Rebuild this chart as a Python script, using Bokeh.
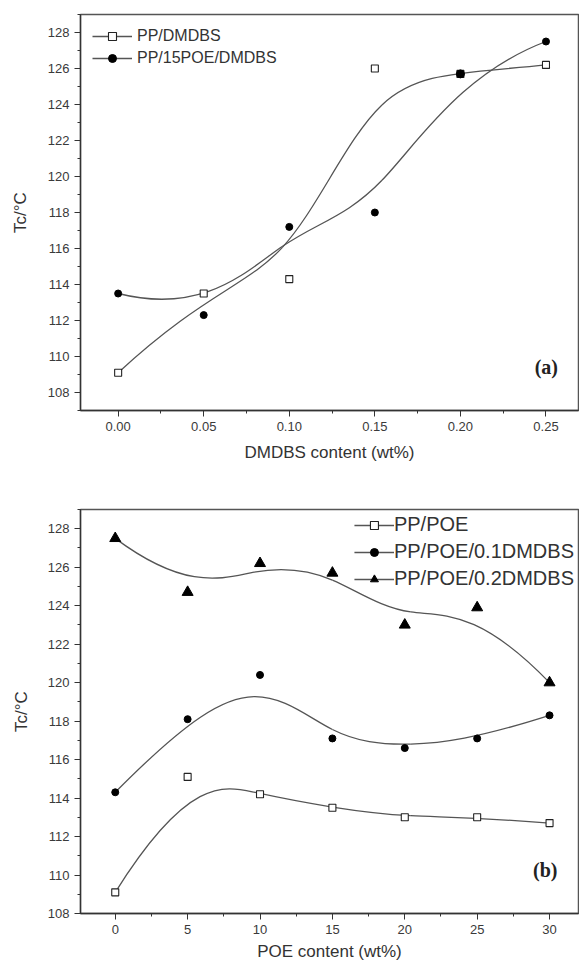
import numpy as np
from bokeh.plotting import figure
from bokeh.layouts import column
from bokeh.models import (FixedTicker, SingleIntervalTicker, NumeralTickFormatter,
                          Range1d, Legend, LegendItem, Label)
from bokeh.embed import file_html
from bokeh.resources import INLINE

# ---------------- data ----------------
dmdbs_x = [0.00, 0.05, 0.10, 0.15, 0.20, 0.25]
pp_dmdbs = [109.1, 113.5, 114.3, 126.0, 125.7, 126.2]
pp15poe_dmdbs = [113.5, 112.3, 117.2, 118.0, 125.7, 127.5]

poe_x = [0, 5, 10, 15, 20, 25, 30]
pp_poe = [109.1, 115.1, 114.2, 113.5, 113.0, 113.0, 112.7]
pp_poe_01 = [114.3, 118.1, 120.4, 117.1, 116.6, 117.1, 118.3]
pp_poe_02 = [127.5, 124.7, 126.2, 125.7, 123.0, 123.9, 120.0]

a_xticks = [0.00, 0.05, 0.10, 0.15, 0.20, 0.25]
a_xminor = [-0.025, 0.025, 0.075, 0.125, 0.175, 0.225, 0.275]
b_xticks = [0, 5, 10, 15, 20, 25, 30]
b_xminor = [-2.5, 2.5, 7.5, 12.5, 17.5, 22.5, 27.5, 32.5]

FONT = "Liberation Sans"
CURVE = "#555555"


def bspline_bezier(xs, ys):
    """Clamped cubic B-spline (data points as control points, like Origin's
    B-spline connection) expressed as cubic Bezier segments."""
    ctrl = np.column_stack([xs, ys]).astype(float)
    n = len(ctrl)
    p = 3
    m = n - p
    knots = [0.0] * (p + 1) + [float(k) for k in range(1, m)] + [float(m)] * (p + 1)

    def point(u, span):
        d = [ctrl[j + span - p].copy() for j in range(p + 1)]
        for r in range(1, p + 1):
            for j in range(p, r - 1, -1):
                lo = knots[j + span - p]
                hi = knots[j + 1 + span - r]
                a = (u - lo) / (hi - lo)
                d[j] = (1 - a) * d[j - 1] + a * d[j]
        return d[p]

    out = {k: [] for k in ("x0", "y0", "x1", "y1", "cx0", "cy0", "cx1", "cy1")}
    for k in range(m):
        span = k + p
        S = [point(k + f, span) for f in (0.0, 1 / 3, 2 / 3, 1.0)]
        B0, B3 = S[0], S[3]
        R1 = 27 * S[1] - 8 * B0 - B3
        R2 = 27 * S[2] - B0 - 8 * B3
        B1 = (2 * R1 - R2) / 18
        B2 = (2 * R2 - R1) / 18
        out["x0"].append(float(B0[0])); out["y0"].append(float(B0[1]))
        out["x1"].append(float(B3[0])); out["y1"].append(float(B3[1]))
        out["cx0"].append(float(B1[0])); out["cy0"].append(float(B1[1]))
        out["cx1"].append(float(B2[0])); out["cy1"].append(float(B2[1]))
    return out


def style(p, xticks, xminor, xfmt, xlabel, ylabel_standoff, xlabel_standoff):
    p.xgrid.visible = False
    p.ygrid.visible = False
    p.outline_line_color = "#555555"
    p.outline_line_width = 1.5
    p.background_fill_color = "white"
    p.border_fill_color = "white"
    p.xaxis.ticker = FixedTicker(ticks=xticks, minor_ticks=xminor)
    p.xaxis.formatter = NumeralTickFormatter(format=xfmt)
    p.yaxis.ticker = SingleIntervalTicker(interval=2, num_minor_ticks=2)
    for ax in (p.xaxis[0], p.yaxis[0]):
        ax.axis_line_color = "#333333"
        ax.axis_line_width = 1.3
        ax.major_tick_line_color = "#333333"
        ax.minor_tick_line_color = "#333333"
        ax.major_tick_out = 6
        ax.major_tick_in = 0
        ax.minor_tick_out = 3
        ax.minor_tick_in = 0
        ax.major_label_text_font = FONT
        ax.major_label_text_font_size = "13px"
        ax.major_label_text_color = "#3a3a3a"
        ax.axis_label_text_font = FONT
        ax.axis_label_text_font_size = "17px"
        ax.axis_label_text_font_style = "normal"
        ax.axis_label_text_color = "#333333"
    p.xaxis.axis_label = xlabel
    p.yaxis.axis_label = "Tc/\u00b0C"
    p.xaxis.major_label_standoff = 5
    p.xaxis.axis_label_standoff = xlabel_standoff
    p.yaxis.major_label_standoff = 5
    p.yaxis.axis_label_standoff = ylabel_standoff


def legend(p, items, location, font_size, standoff, padding, spacing):
    lg = Legend(items=items, location=location, glyph_width=40, glyph_height=20,
                label_height=20, label_standoff=standoff, padding=padding, margin=0,
                spacing=spacing, border_line_alpha=0, background_fill_alpha=0,
                label_text_font=FONT, label_text_font_size=font_size,
                label_text_color="#333333")
    p.add_layout(lg)


# ---------------- panel (a) ----------------
pa = figure(width=579, height=472, x_range=Range1d(-0.022, 0.269), y_range=Range1d(107, 129),
            output_backend="svg", toolbar_location=None,
            min_border_left=75, min_border_right=1, min_border_top=14, min_border_bottom=62)
style(pa, a_xticks, a_xminor, "0.00", "DMDBS content (wt%)", 15, 9)

ca1 = pa.bezier(line_color=CURVE, line_width=1.3, **bspline_bezier(dmdbs_x, pp_dmdbs))
ca2 = pa.bezier(line_color=CURVE, line_width=1.3, **bspline_bezier(dmdbs_x, pp15poe_dmdbs))
sa2 = pa.scatter(dmdbs_x, pp15poe_dmdbs, marker="circle", size=7, fill_color="black",
                 line_color="black")
sa1 = pa.scatter(dmdbs_x, pp_dmdbs, marker="square", size=7, fill_color="white",
                 line_color="#222222", line_width=1.1)
sa2b = pa.scatter(dmdbs_x[4:5], pp15poe_dmdbs[4:5], marker="circle", size=8,
                  fill_color="black", line_color="black")

legend(pa, [LegendItem(label="PP/DMDBS", renderers=[ca1, sa1]),
            LegendItem(label="PP/15POE/DMDBS", renderers=[ca2, sa2])],
       "top_left", "16px", 5, 12, 2)

pa.add_layout(Label(x=0.257, y=109.4, text="(a)", text_align="right", text_baseline="middle",
                    text_font="Liberation Serif", text_font_style="bold",
                    text_font_size="20px", text_color="#222222"))

# ---------------- panel (b) ----------------
pb = figure(width=579, height=494, x_range=Range1d(-2.4, 32), y_range=Range1d(108, 129),
            output_backend="svg", toolbar_location=None,
            min_border_left=80, min_border_right=1, min_border_top=37, min_border_bottom=53)
style(pb, b_xticks, b_xminor, "0", "POE content (wt%)", 14, 5)

cb1 = pb.bezier(line_color=CURVE, line_width=1.3, **bspline_bezier(poe_x, pp_poe))
cb2 = pb.bezier(line_color=CURVE, line_width=1.3, **bspline_bezier(poe_x, pp_poe_01))
cb3 = pb.bezier(line_color=CURVE, line_width=1.3, **bspline_bezier(poe_x, pp_poe_02))
sb1 = pb.scatter(poe_x, pp_poe, marker="square", size=7, fill_color="white",
                 line_color="#222222", line_width=1.1)
sb2 = pb.scatter(poe_x, pp_poe_01, marker="circle", size=7, fill_color="black",
                 line_color="black")
sb3 = pb.scatter(poe_x, pp_poe_02, marker="triangle", size=11, fill_color="black",
                 line_color="black")

legend(pb, [LegendItem(label="PP/POE", renderers=[cb1, sb1]),
            LegendItem(label="PP/POE/0.1DMDBS", renderers=[cb2, sb2]),
            LegendItem(label="PP/POE/0.2DMDBS", renderers=[cb3, sb3])],
       "top_right", "20px", 0, 4, 4)

pb.add_layout(Label(x=30.55, y=110.25, text="(b)", text_align="right", text_baseline="middle",
                    text_font="Liberation Serif", text_font_style="bold",
                    text_font_size="20px", text_color="#222222"))

layout = column(pa, pb, spacing=0)
open("out.html", "w").write(file_html(layout, INLINE))
